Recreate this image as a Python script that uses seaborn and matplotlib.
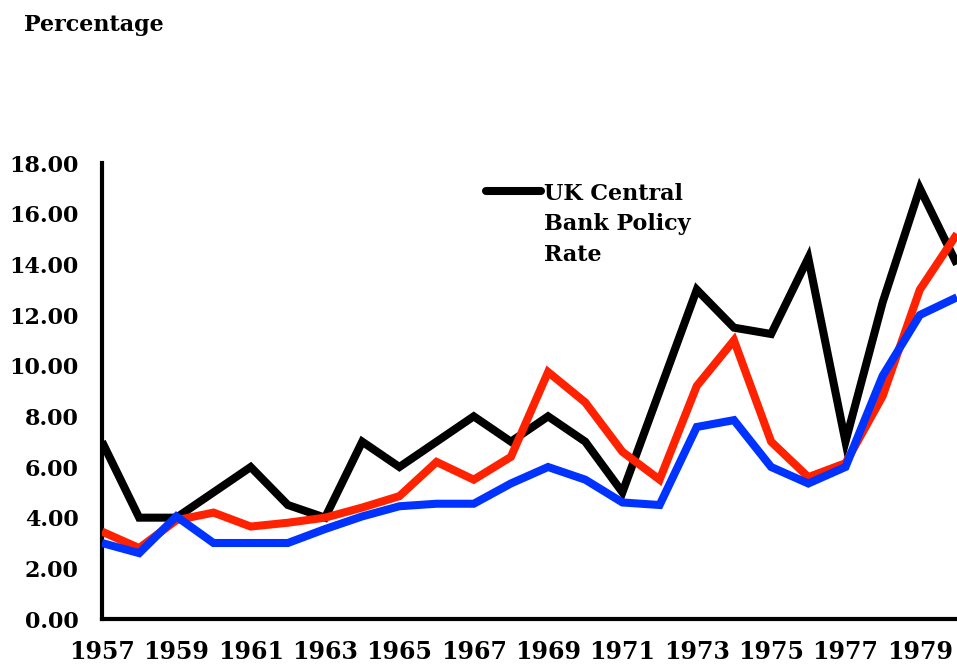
import numpy as np
import pandas as pd
import matplotlib
matplotlib.use("Agg")
import matplotlib.pyplot as plt
import seaborn as sns

years = list(range(1957, 1981))
policy_rate = [7.0, 4.0, 4.0, 5.0, 6.0, 4.5, 4.0, 7.0, 6.0, 7.0, 8.0, 7.0,
               8.0, 7.0, 5.0, 9.0, 13.0, 11.5, 11.25, 14.25, 7.0, 12.5, 17.0, 14.0]
red_series = [3.45, 2.8, 3.9, 4.2, 3.65, 3.8, 4.0, 4.4, 4.85, 6.2, 5.5, 6.4,
              9.75, 8.55, 6.6, 5.5, 9.2, 11.0, 7.0, 5.6, 6.15, 8.8, 13.0, 15.2]
blue_series = [3.0, 2.6, 4.05, 3.0, 3.0, 3.0, 3.55, 4.05, 4.45, 4.55, 4.55, 5.35,
               6.0, 5.5, 4.6, 4.5, 7.58, 7.85, 6.0, 5.35, 6.0, 9.6, 12.0, 12.7]
series_names = ["UK Central\nBank Policy\nRate", "Series 2", "Series 3"]
y_ticks = [0, 2, 4, 6, 8, 10, 12, 14, 16, 18]
ylabel_text = "Percentage"

sns.set_style("white")
plt.rcParams['font.family'] = ['DejaVu Serif']
plt.rcParams['font.weight'] = 'bold'
plt.rcParams['text.color'] = 'black'
plt.rcParams['xtick.color'] = 'black'
plt.rcParams['ytick.color'] = 'black'
plt.rcParams['xtick.labelcolor'] = 'black'
plt.rcParams['ytick.labelcolor'] = 'black'

df = pd.DataFrame({
    "year": years * 3,
    "value": policy_rate + red_series + blue_series,
    "series": [series_names[0]] * len(years) + [series_names[1]] * len(years) + [series_names[2]] * len(years),
})

colors = {series_names[0]: "#000000", series_names[1]: "#FF2200", series_names[2]: "#0033FF"}

fig = plt.figure(figsize=(9.57, 6.64), dpi=100)
ax = fig.add_axes([102 / 957, 45 / 664, 1 - 102 / 957, (619 - 163) / 664])

sns.lineplot(data=df, x="year", y="value", hue="series", hue_order=series_names,
             palette=colors, linewidth=5.8, ax=ax, legend=False, sort=True)
lines = ax.get_lines()
lines[0].set_zorder(2)
lines[1].set_zorder(3)
lines[2].set_zorder(4)
for ln in lines:
    ln.set_solid_joinstyle("miter")
    ln.set_solid_capstyle("butt")

ax.set_xlim(1957, 1957 + (957 - 102) / 37.45)
ax.set_ylim(0, 18)
ax.set_yticks(y_ticks)
ax.set_yticklabels([f"{v:.2f}" for v in y_ticks])
ax.set_xticks(years)
ax.set_xticklabels([str(y) if (y - 1957) % 2 == 0 else "" for y in years])
ax.tick_params(axis="both", which="major", direction="out", length=6, width=3,
               color="black", labelcolor="black", labelsize=16)
ax.tick_params(axis="x", pad=9, labelsize=17)
ax.tick_params(axis="y", pad=11)
for lbl in ax.get_xticklabels() + ax.get_yticklabels():
    lbl.set_fontweight("bold")

for side in ["top", "right"]:
    ax.spines[side].set_visible(False)
for side in ["left", "bottom"]:
    ax.spines[side].set_linewidth(3)
    ax.spines[side].set_color("black")
ax.set_xlabel("")
ax.set_ylabel("")

leg = ax.legend(handles=[lines[0]], labels=[series_names[0]], loc="upper left",
                bbox_to_anchor=(468 / 957, 1 - 165 / 664), bbox_transform=fig.transFigure,
                frameon=False, handlelength=2.5, handletextpad=0.1, borderpad=0.3,
                prop={"size": 16, "weight": "bold"})
for t in leg.get_texts():
    t.set_linespacing(1.5)
    t.set_color("black")
for h in leg.legend_handles:
    h.set_solid_capstyle("round")
# align the handle with the first line of the label
for col in leg._legend_handle_box.get_children():
    for row in col.get_children():
        row.align = "top"

fig.text(24 / 957, 1 - 31 / 664, ylabel_text, fontsize=16, fontweight="bold",
         ha="left", va="baseline", color="black")

fig.savefig("out.png", dpi=100)
